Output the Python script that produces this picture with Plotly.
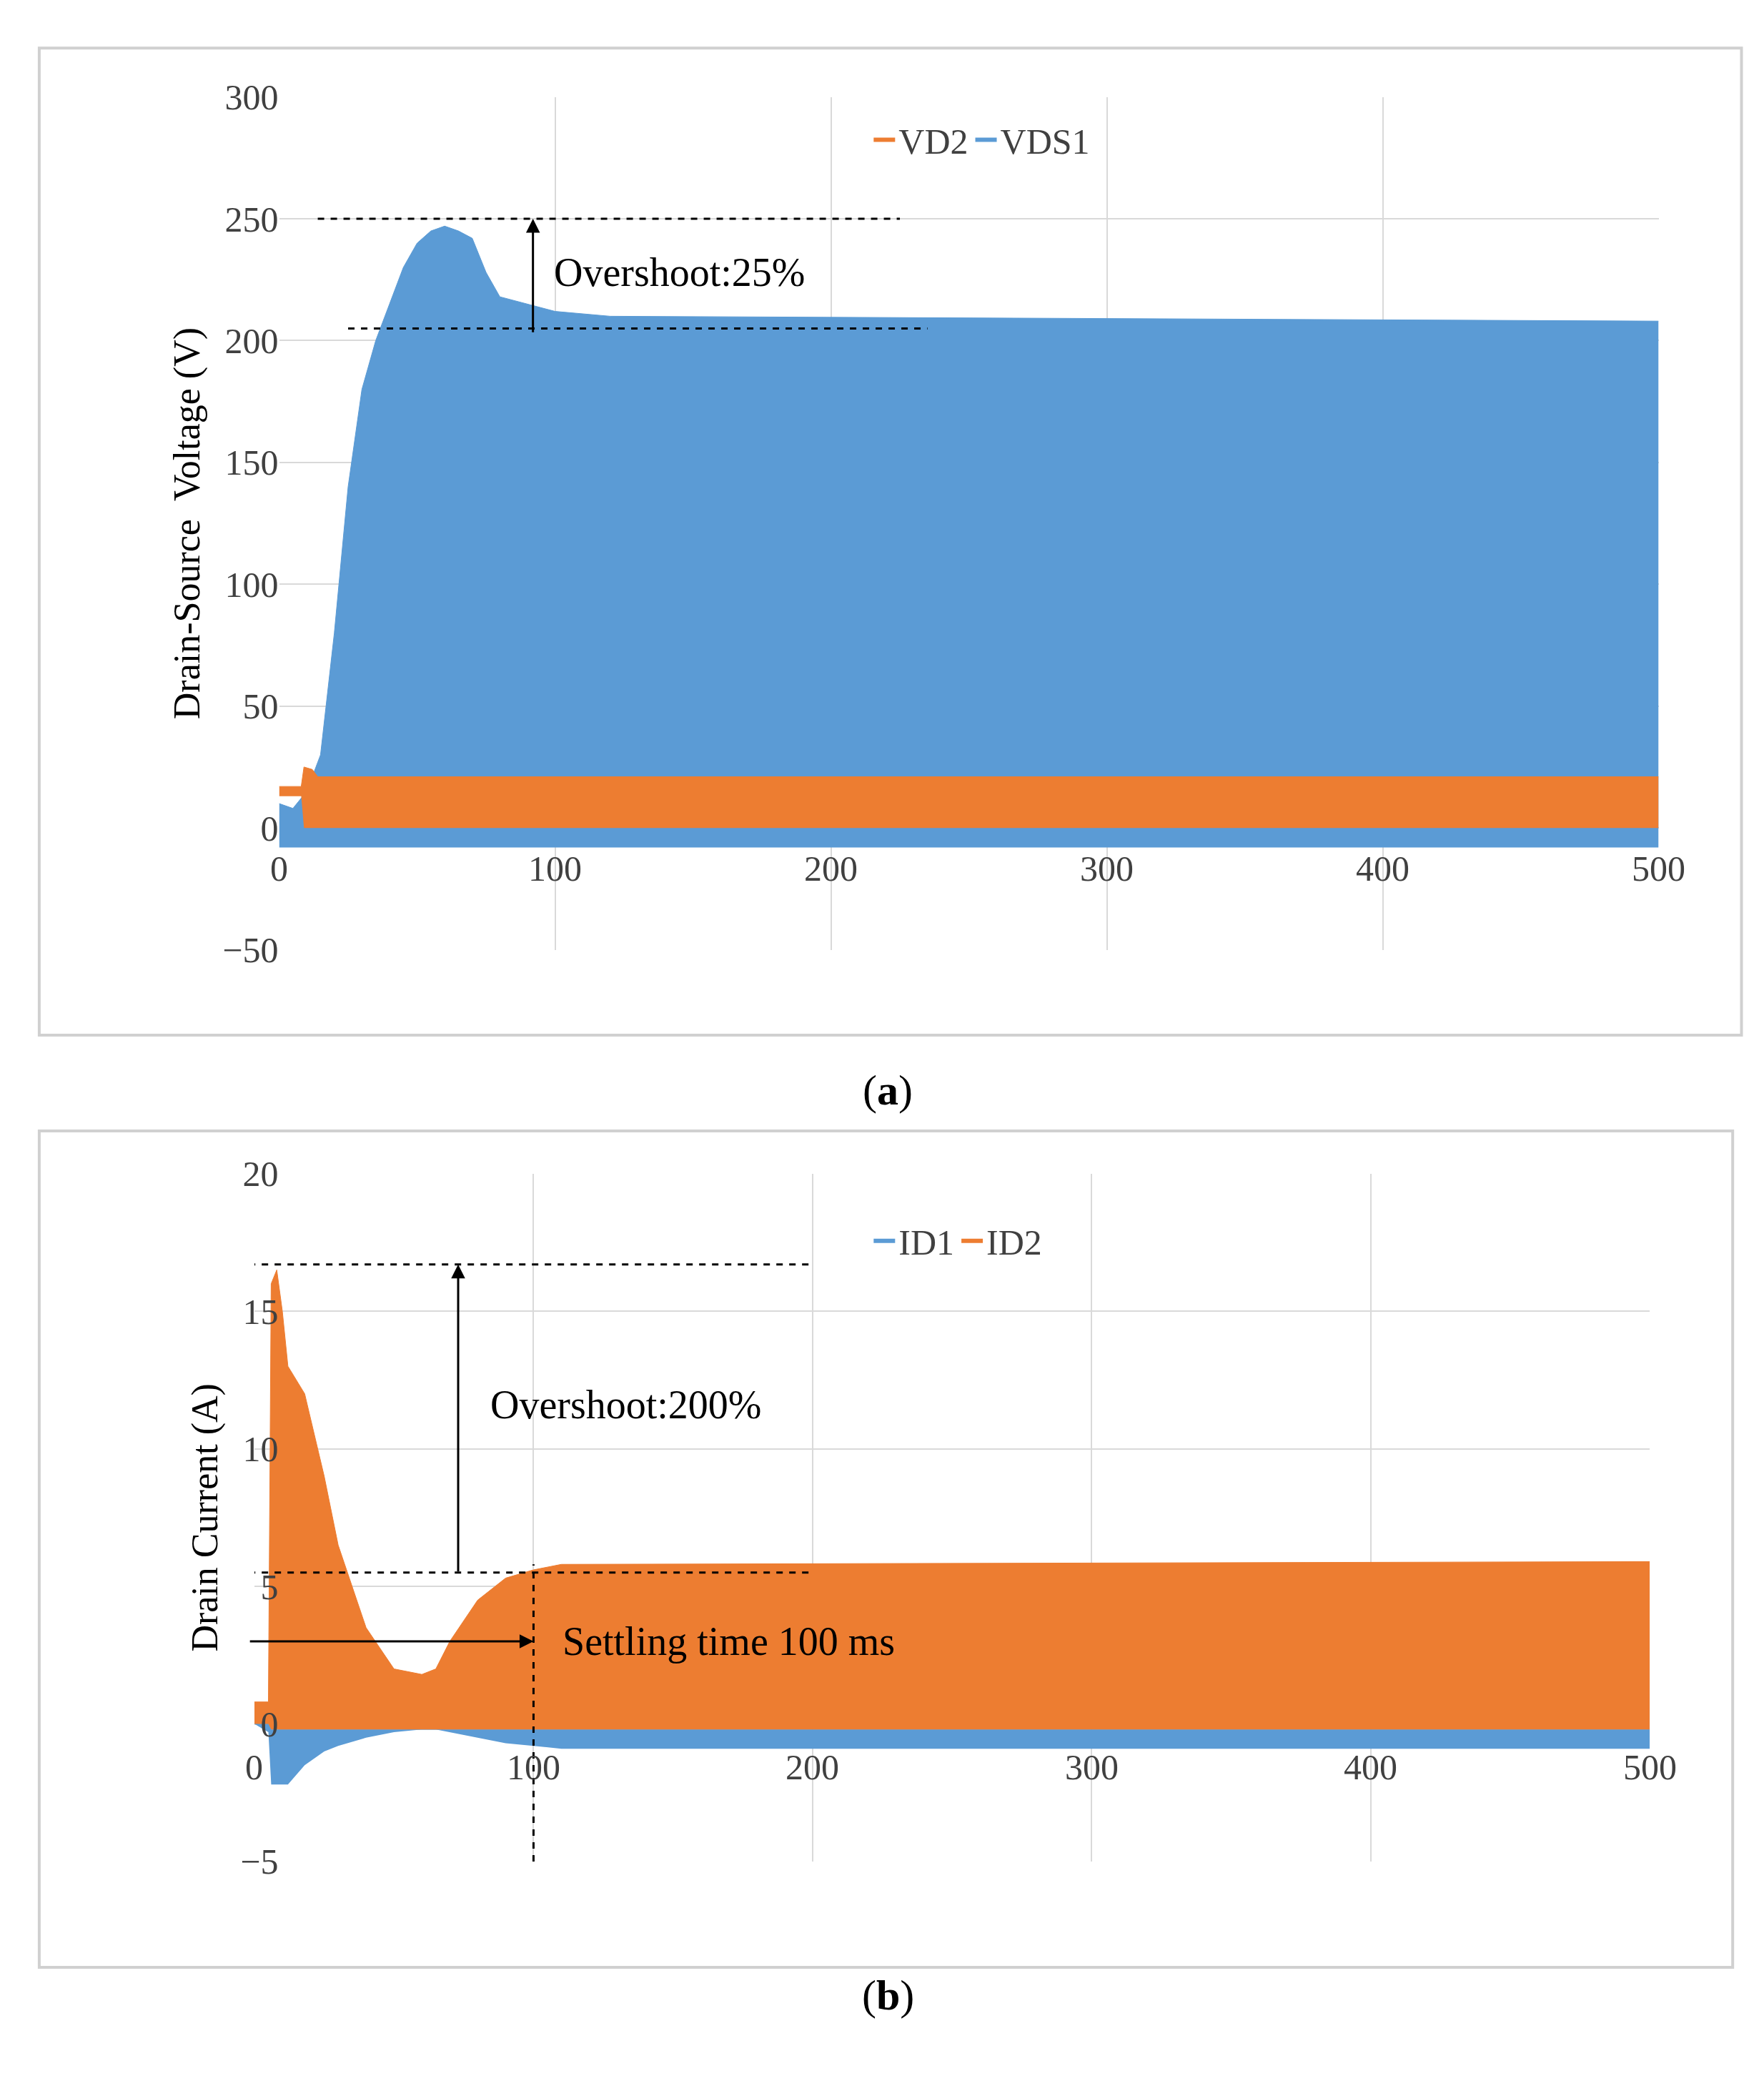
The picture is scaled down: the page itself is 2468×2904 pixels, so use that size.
import plotly.graph_objects as go

# Panel (a) envelopes
ta = [0, 5, 10, 15, 20, 25, 30, 35, 40, 45, 50, 55, 60, 65, 70, 75, 80, 90, 100, 120, 500]
vds1_hi = [10, 8, 15, 30, 80, 140, 180, 200, 215, 230, 240, 245, 247, 245, 242, 228, 218, 215, 212, 210, 208]
vds1_lo = [-8, -8, -8, -8, -8, -8, -8, -8, -8, -8, -8, -8, -8, -8, -8, -8, -8, -8, -8, -8, -8]
tv = [0, 5, 8, 9, 12, 14, 500]
vd2_hi = [17, 17, 17, 25, 24, 21, 21]
vd2_lo = [13, 13, 13, 0, 0, 0, 0]

# Panel (b) envelopes
tb = [0, 5, 6, 8, 10, 12, 18, 25, 30, 40, 50, 60, 65, 70, 80, 90, 100, 110, 500]
id2_hi = [0.8, 0.8, 16, 16.5, 15, 13, 12, 9, 6.5, 3.5, 2, 1.8, 2, 3, 4.5, 5.3, 5.6, 5.8, 5.9]
id2_lo = [0, 0, -0.2, -0.2, -0.2, -0.2, -0.2, -0.2, -0.2, -0.2, -0.2, -0.2, -0.2, -0.2, -0.2, -0.2, -0.2, -0.2, -0.2]
id1_hi = [0, 0, -0.2, -0.2, -0.2, -0.2, -0.2, -0.2, -0.2, -0.2, -0.2, -0.2, -0.2, -0.2, -0.2, -0.2, -0.2, -0.2, -0.2]
id1_lo = [0, -0.3, -2.2, -2.2, -2.2, -2.2, -1.5, -1.0, -0.8, -0.5, -0.3, -0.2, -0.2, -0.3, -0.5, -0.7, -0.8, -0.9, -0.9]

xticks = [0, 100, 200, 300, 400, 500]
yticks_a = [-50, 0, 50, 100, 150, 200, 250, 300]
yticks_b = [-5, 0, 5, 10, 15, 20]

BLUE = "#5B9BD5"
ORANGE = "#ED7D31"
FONT = "Liberation Serif"

fig = go.Figure()

def band(x, lo, hi, color, xa, ya):
    fig.add_trace(go.Scatter(x=x, y=lo, mode="lines", line=dict(width=0, color=color),
                             showlegend=False, xaxis=xa, yaxis=ya, hoverinfo="skip"))
    fig.add_trace(go.Scatter(x=x, y=hi, mode="lines", line=dict(width=1, color=color),
                             fill="tonexty", fillcolor=color, showlegend=False,
                             xaxis=xa, yaxis=ya))

band(ta, vds1_lo, vds1_hi, BLUE, "x", "y")
band(tv, vd2_lo, vd2_hi, ORANGE, "x", "y")
band(tb, id1_lo, id1_hi, BLUE, "x2", "y2")
band(tb, id2_lo, id2_hi, ORANGE, "x2", "y2")

for name, c, xa, ya, lg in [("VDS1", BLUE, "x", "y", "legend"), ("VD2", ORANGE, "x", "y", "legend"),
                            ("ID1", BLUE, "x2", "y2", "legend2"), ("ID2", ORANGE, "x2", "y2", "legend2")]:
    fig.add_trace(go.Scatter(x=[None], y=[None], mode="lines", name=name,
                             line=dict(color=c, width=6), xaxis=xa, yaxis=ya, legend=lg))

axfont = dict(family=FONT, size=50, color="#404040")
common_x = dict(range=[0, 500], tickvals=xticks, showticklabels=False, showgrid=True,
                gridcolor="#D9D9D9", gridwidth=2, zeroline=False, showline=False)
fig.update_layout(
    width=2468, height=2904, paper_bgcolor="white", plot_bgcolor="white",
    font=dict(family=FONT, size=50, color="black"),
    margin=dict(l=0, r=0, t=0, b=0),
    xaxis=dict(domain=[0.155, 0.937], anchor="y", **common_x),
    yaxis=dict(domain=[0.546, 0.965], range=[-50, 300], tickvals=yticks_a, tickfont=axfont,
               showgrid=True, gridcolor="#D9D9D9", gridwidth=2, zeroline=False,
               title=dict(text="Drain-Source  Voltage (V)", font=dict(size=52)), ticklen=0, ticks=""),
    xaxis2=dict(domain=[0.141, 0.932], anchor="y2", **common_x),
    yaxis2=dict(domain=[0.098, 0.436], range=[-5, 20], tickvals=yticks_b, tickfont=axfont,
                showgrid=True, gridcolor="#D9D9D9", gridwidth=2, zeroline=False,
                title=dict(text="Drain Current (A)", font=dict(size=52)), ticks=""),
    legend=dict(orientation="h", x=0.49, y=0.944, xanchor="left", yanchor="middle",
                font=dict(size=50, color="#404040"), bgcolor="rgba(0,0,0,0)"),
    legend2=dict(orientation="h", x=0.49, y=0.403, xanchor="left", yanchor="middle",
                 font=dict(size=50, color="#404040"), bgcolor="rgba(0,0,0,0)"),
)

shapes = []
# panel boxes
shapes.append(dict(type="rect", xref="paper", yref="paper", x0=0.019, x1=0.984, y0=0.504, y1=0.989,
                   line=dict(color="#D0D0D0", width=4)))
shapes.append(dict(type="rect", xref="paper", yref="paper", x0=0.019, x1=0.979, y0=0.046, y1=0.457,
                   line=dict(color="#D0D0D0", width=4)))
dash = dict(color="black", width=3, dash="dash")
shapes += [
    dict(type="line", xref="x", yref="y", x0=14, x1=225, y0=250, y1=250, line=dash),
    dict(type="line", xref="x", yref="y", x0=25, x1=235, y0=205, y1=205, line=dash),
    dict(type="line", xref="x2", yref="y2", x0=-2, x1=200, y0=16.7, y1=16.7, line=dash),
    dict(type="line", xref="x2", yref="y2", x0=-2, x1=200, y0=5.5, y1=5.5, line=dash),
    dict(type="line", xref="x2", yref="y2", x0=100, x1=100, y0=-5, y1=5.8, line=dash),
]
fig.update_layout(shapes=shapes)

ann = []
for v in xticks:
    ann.append(dict(x=v, y=-8, xref="x", yref="y", text=str(v), showarrow=False, yanchor="top",
                    font=axfont))
    ann.append(dict(x=v, y=-0.8, xref="x2", yref="y2", text=str(v), showarrow=False, yanchor="top",
                    font=axfont))
arr = dict(showarrow=True, arrowhead=2, arrowsize=1.3, arrowwidth=3, arrowcolor="black", text="")
ann += [
    dict(x=92, y=250, ax=92, ay=203, xref="x", yref="y", axref="x", ayref="y", **arr),
    dict(x=73, y=16.7, ax=73, ay=5.5, xref="x2", yref="y2", axref="x2", ayref="y2", **arr),
    dict(x=100, y=3, ax=-2, ay=3, xref="x2", yref="y2", axref="x2", ayref="y2", **arr),
    dict(x=99, y=228, xref="x", yref="y", text="Overshoot:25%", showarrow=False, xanchor="left",
         font=dict(size=56)),
    dict(x=84, y=11.6, xref="x2", yref="y2", text="Overshoot:200%", showarrow=False, xanchor="left",
         font=dict(size=56)),
    dict(x=110, y=3, xref="x2", yref="y2", text="Settling time 100 ms", showarrow=False,
         xanchor="left", font=dict(size=56)),
    dict(x=250, y=-62, xref="x", yref="y", text="time (ms)", showarrow=False, yanchor="top",
         font=dict(size=52, color="#404040")),
    dict(x=250, y=-5.4, xref="x2", yref="y2", text="time (ms)", showarrow=False, yanchor="top",
         font=dict(size=52, color="#404040")),
    dict(x=0.5, y=0.477, xref="paper", yref="paper", text="(<b>a</b>)", showarrow=False,
         font=dict(size=60)),
    dict(x=0.5, y=0.02, xref="paper", yref="paper", text="(<b>b</b>)", showarrow=False,
         font=dict(size=60)),
]
fig.update_layout(annotations=ann)

fig.write_html("out.html")
